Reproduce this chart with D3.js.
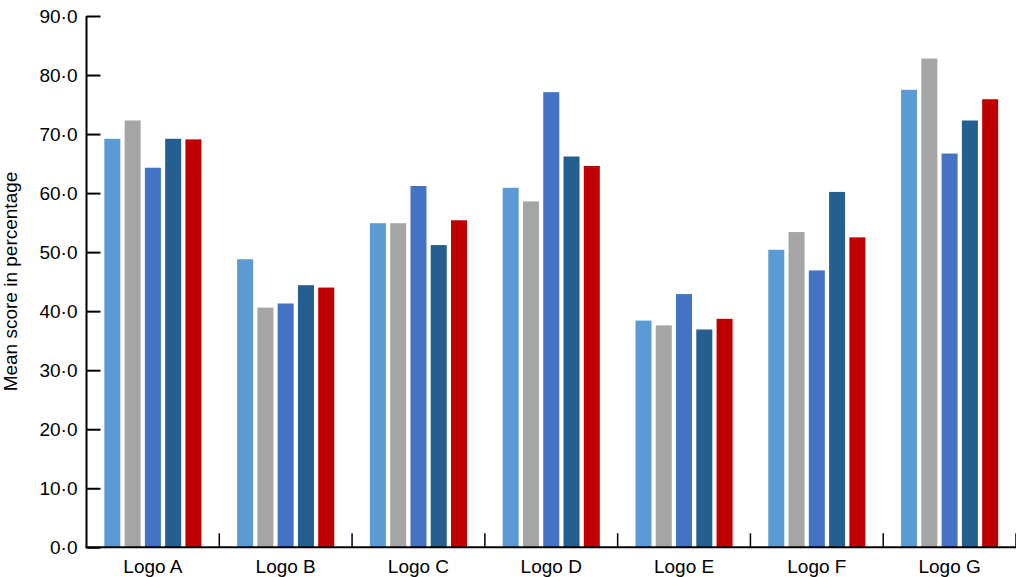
<!DOCTYPE html>
<html>
<head>
<meta charset="utf-8">
<script src="https://cdn.jsdelivr.net/npm/d3@7"></script>
<style>
  html, body { margin: 0; padding: 0; background: #fff; }
  svg { display: block; }
  text { font-family: "Liberation Sans", Arial, Helvetica, sans-serif; fill: #000; }
</style>
</head>
<body>
<svg id="chart" width="1016" height="577"></svg>
<script>
const categories = ["Logo A", "Logo B", "Logo C", "Logo D", "Logo E", "Logo F", "Logo G"];
const seriesNames = ["S1", "S2", "S3", "S4", "S5"];
const seriesColors = ["#5B9BD5", "#A5A5A5", "#4472C4", "#255E91", "#C00000"];
const s1 = [69.2, 48.8, 54.9, 60.9, 38.4, 50.4, 77.5];
const s2 = [72.3, 40.6, 54.9, 58.6, 37.6, 53.4, 82.8];
const s3 = [64.3, 41.3, 61.2, 77.1, 42.9, 46.9, 66.7];
const s4 = [69.2, 44.4, 51.2, 66.2, 36.9, 60.2, 72.3];
const s5 = [69.1, 44.0, 55.4, 64.6, 38.7, 52.5, 75.9];
const seriesValues = [s1, s2, s3, s4, s5];
const yTicks = [0, 10, 20, 30, 40, 50, 60, 70, 80, 90];
const yTitle = "Mean score in percentage";

const svg = d3.select("#chart");
const mLeft = 86.5, mRight = 1016, mTop = 16, mBottom = 547.3;
const fontSize = "19px";

const x0 = d3.scaleBand().domain(categories).range([mLeft, mRight]).padding(0);
const x1 = d3.scaleBand().domain(seriesNames).range([0, x0.bandwidth()])
  .paddingInner(0.21).paddingOuter(0.88);
const y = d3.scaleLinear().domain([0, 90]).range([mBottom, mTop]);

const fmt = v => d3.format(".1f")(v).replace(".", "\u00B7");

// bars
const groups = svg.append("g").selectAll("g")
  .data(categories).join("g")
  .attr("transform", d => `translate(${x0(d)},0)`);
groups.selectAll("rect")
  .data((c, i) => seriesNames.map((s, j) => ({ s, j, v: seriesValues[j][i] })))
  .join("rect")
  .attr("x", d => x1(d.s))
  .attr("width", x1.bandwidth())
  .attr("y", d => y(d.v))
  .attr("height", d => y(0) - y(d.v))
  .attr("fill", d => seriesColors[d.j]);

// y axis
const yAxis = svg.append("g")
  .attr("transform", `translate(${mLeft},0)`)
  .call(d3.axisLeft(y).tickValues(yTicks).tickFormat(fmt).tickSize(-14).tickPadding(9));
yAxis.select(".domain").attr("d", `M0,${mTop}V${mBottom}`).attr("stroke", "#000").attr("stroke-width", 2);
yAxis.selectAll(".tick line").attr("stroke", "#000").attr("stroke-width", 2);
yAxis.selectAll("text").style("font-size", fontSize).attr("fill", "#000");

// x axis
const xAxis = svg.append("g")
  .attr("transform", `translate(0,${mBottom})`)
  .call(d3.axisBottom(x0).tickSize(0).tickPadding(12));
xAxis.select(".domain").attr("d", `M${mLeft - 1},0H${mRight}`).attr("stroke", "#000").attr("stroke-width", 2);
xAxis.selectAll("text").style("font-size", fontSize).attr("fill", "#000");

// category boundary ticks (pointing up)
svg.append("g").selectAll("line")
  .data(categories).join("line")
  .attr("x1", d => x0(d) + x0.bandwidth())
  .attr("x2", d => x0(d) + x0.bandwidth())
  .attr("y1", mBottom)
  .attr("y2", mBottom - 14)
  .attr("stroke", "#000")
  .attr("stroke-width", 1.5);

// y title
svg.append("text")
  .attr("transform", `translate(17,${(170 + 393) / 2}) rotate(-90)`)
  .attr("text-anchor", "middle")
  .style("font-size", fontSize)
  .text(yTitle);
</script>
</body>
</html>
